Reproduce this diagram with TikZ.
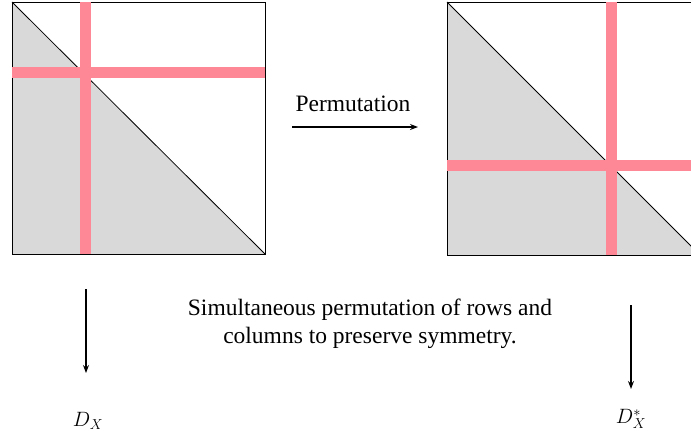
\documentclass[tikz,border=0pt]{standalone}
\usepackage{fontspec}
\setmainfont{Liberation Serif}
\newfontfamily\timesx{Liberation Serif}
\usetikzlibrary{arrows.meta}
\definecolor{band}{HTML}{FF8896}
\definecolor{shade}{HTML}{D9D9D9}
\tikzset{
  tri/.style={fill=shade},
  diag/.style={draw=black,line width=0.8pt},
  frame/.style={draw=black,line width=1pt},
  bandline/.style={draw=band,line width=11pt},
  conn/.style={draw=black,line width=1.2pt,-{Stealth[length=8pt,width=6pt]}},
  lbl/.style={font=\timesx\fontsize{23.5}{28}\selectfont,inner sep=0pt},
  mlbl/.style={font=\fontsize{22}{26}\selectfont,inner sep=0pt}
}
\begin{document}
\begin{tikzpicture}[x=1pt,y=-1pt]
\useasboundingbox (0,0) rectangle (691,440);
\clip (0,0) rectangle (691,440);
% left matrix
\coordinate (L1) at (12,2);
\coordinate (L2) at (265,254);
\fill[tri] (12,2) -- (12,254) -- (265,254) -- cycle;
\draw[diag] (12,2) -- (265,254);
\draw[frame] (L1) rectangle (L2);
\draw[bandline] (85.5,2) -- (85.5,254);
\draw[bandline] (12,72) -- (265,72);
% right matrix
\coordinate (R1) at (447,2);
\coordinate (R2) at (700,255);
\fill[tri] (447,2) -- (447,255) -- (700,255) -- cycle;
\draw[diag] (447,2) -- (700,255);
\draw[frame] (R1) rectangle (R2);
\draw[bandline] (611.5,2) -- (611.5,255);
\draw[bandline] (447,165.5) -- (700,165.5);
% permutation arrow
\coordinate (pa) at (292,127);
\coordinate (pb) at (418,127);
\draw[conn] (pa) -- (pb);
\node[lbl] (perm) at (353,104) {Permutation};
% description
\node[lbl,align=center] (desc) at (370,324) {Simultaneous permutation of rows and\\columns to preserve symmetry.};
% down arrows
\coordinate (la) at (86,289);
\coordinate (lb) at (86,373);
\draw[conn] (la) -- (lb);
\coordinate (ra) at (631,305);
\coordinate (rb) at (631,389);
\draw[conn] (ra) -- (rb);
\node[mlbl] (dx) at (88,421) {$D_X$};
\node[mlbl] (dxs) at (631,419) {$D_X^*$};
\end{tikzpicture}
\end{document}
